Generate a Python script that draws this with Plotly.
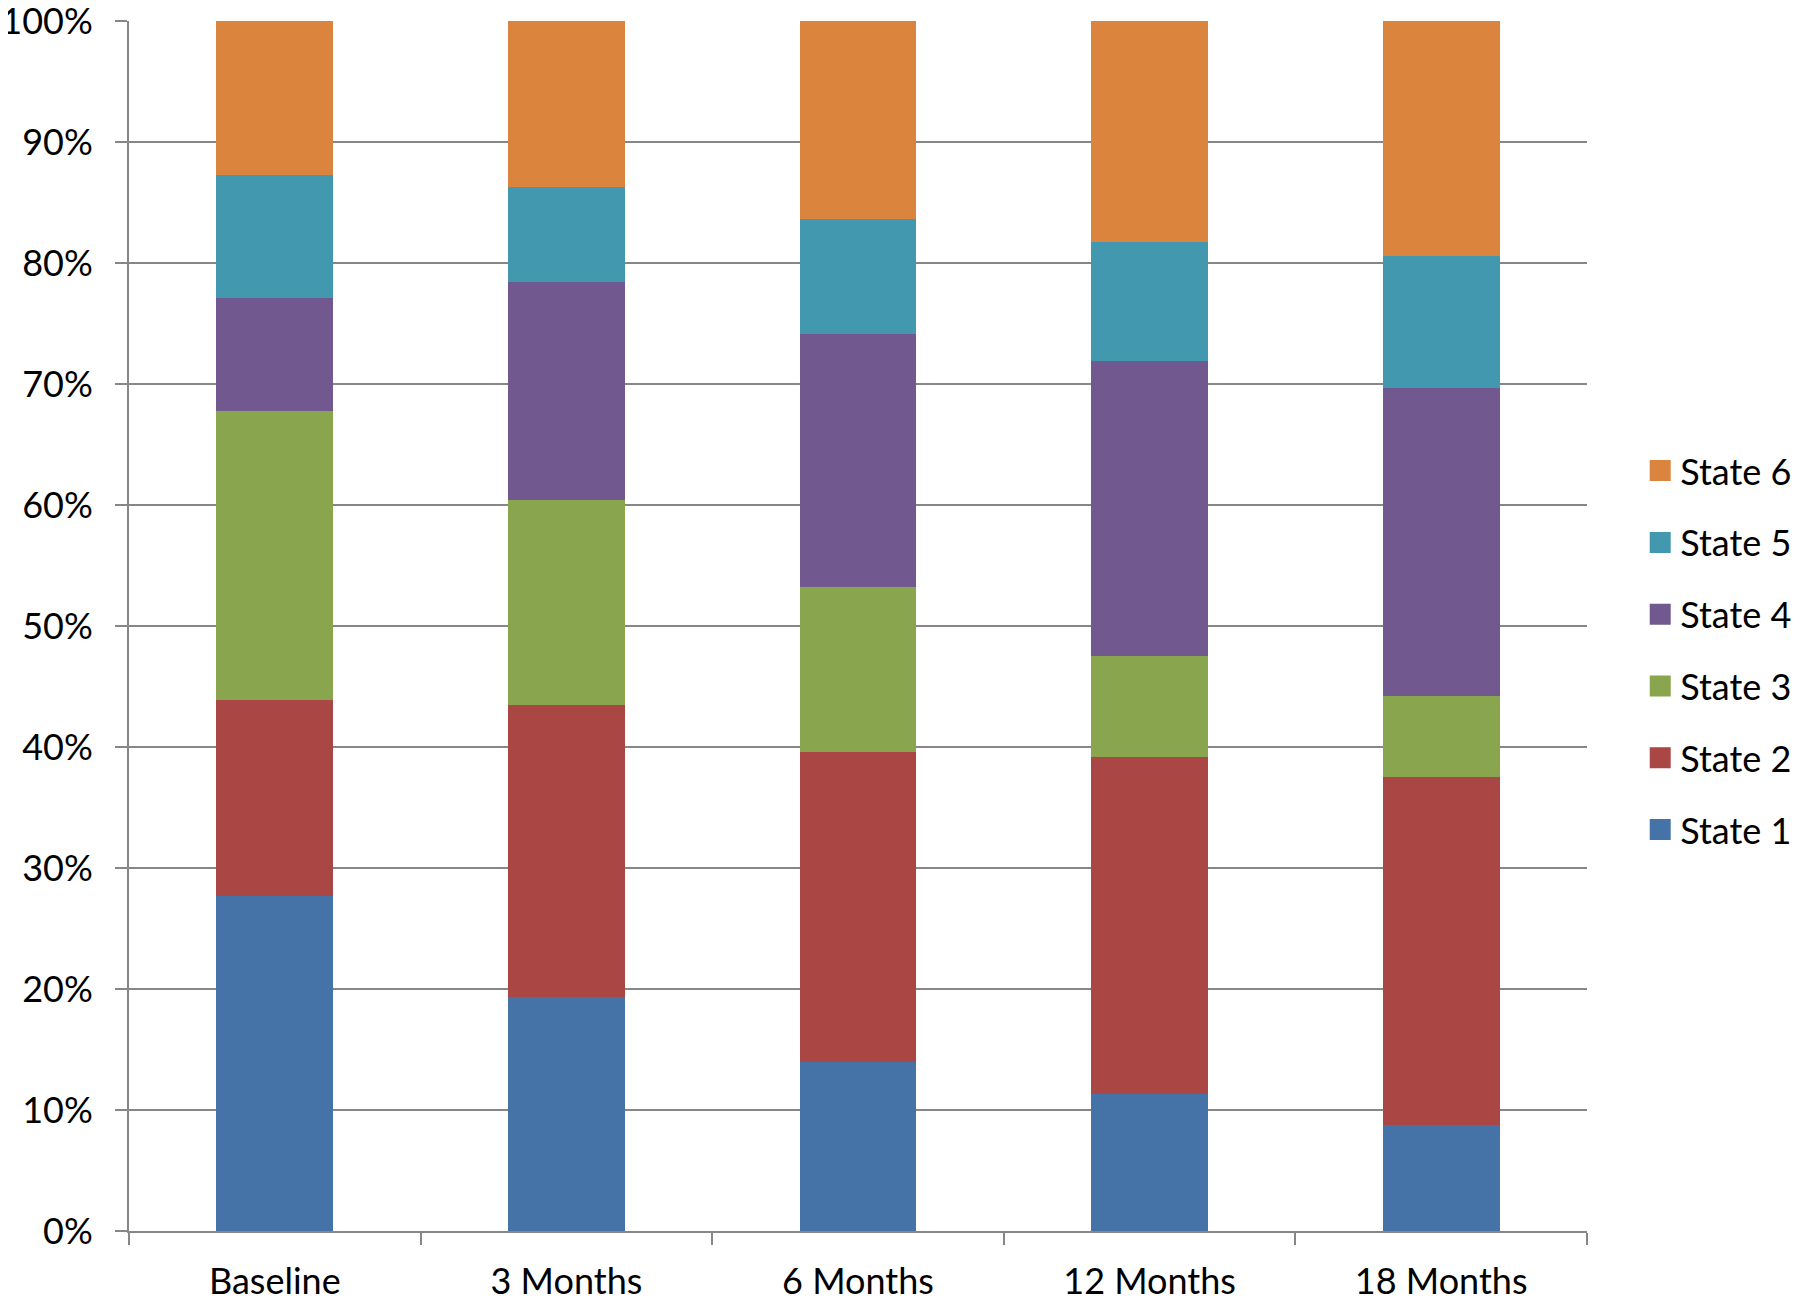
import plotly.graph_objects as go

categories = ["Baseline", "3 Months", "6 Months", "12 Months", "18 Months"]
state1 = [27.7, 19.3, 14.0, 11.3, 8.8]
state2 = [16.2, 24.2, 25.6, 27.9, 28.7]
state3 = [23.9, 16.9, 13.6, 8.3, 6.7]
state4 = [9.3, 18.0, 20.9, 24.4, 25.5]
state5 = [10.2, 7.9, 9.5, 9.8, 10.9]
state6 = [12.7, 13.7, 16.4, 18.3, 19.4]

series_names = ["State 1", "State 2", "State 3", "State 4", "State 5", "State 6"]
series_values = [state1, state2, state3, state4, state5, state6]
colors = ["#4572A7", "#AA4643", "#89A54E", "#71588F", "#4198AF", "#DB843D"]

fig = go.Figure()
for name, vals, col in zip(series_names, series_values, colors):
    fig.add_trace(go.Bar(x=categories, y=vals, name=name, marker_color=col,
                         marker_line_width=0, showlegend=False))

# legend-only entries with larger square swatches
n = len(series_names)
for i, (name, col) in enumerate(zip(series_names, colors)):
    fig.add_trace(go.Scatter(x=[None], y=[None], mode="markers", name=name,
                             marker=dict(symbol="square", size=16, color=col,
                                         line=dict(color=col, width=5)),
                             legendgroup=name, legendrank=n - i, showlegend=True,
                             hoverinfo="skip"))

font_family = "Lato, Carlito, Calibri, sans-serif"
fig.update_layout(
    barmode="stack",
    barnorm="percent",
    bargap=0.6,
    width=1800, height=1302,
    margin=dict(l=121, r=221, t=13, b=79, autoexpand=False),
    paper_bgcolor="white", plot_bgcolor="white",
    font=dict(family=font_family, size=36, color="#000000"),
    showlegend=True,
    legend=dict(traceorder="grouped", tracegroupgap=22,
                x=1.0365, xanchor="left", y=0.48, yanchor="middle",
                font=dict(size=36), itemwidth=30),
)
fig.update_yaxes(range=[0, 100], tickvals=[0, 10, 20, 30, 40, 50, 60, 70, 80, 90, 100],
                 ticktext=[f"{v}%" for v in range(0, 101, 10)],
                 showgrid=True, gridcolor="#878787", gridwidth=2,
                 showline=True, linecolor="#878787", linewidth=2,
                 ticks="outside", ticklen=12, tickcolor="#878787", tickwidth=2,
                 zeroline=False, ticklabelstandoff=15, automargin=False,
                 ticklabeloverflow="allow")
fig.update_xaxes(categoryorder="array", categoryarray=categories,
                 showline=True, linecolor="#878787", linewidth=2,
                 ticks="outside", tickson="boundaries", ticklen=12,
                 tickcolor="#878787", tickwidth=2, mirror=False,
                 ticklabelstandoff=18, automargin=False,
                 ticklabeloverflow="allow")
fig.write_html("out.html")
